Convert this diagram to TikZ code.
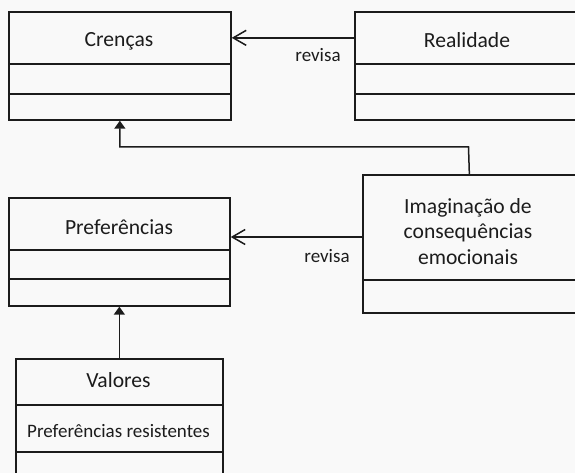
\documentclass[tikz,border=0pt]{standalone}
\usepackage{fontspec}
\setmainfont{Carlito}
\usetikzlibrary{arrows.meta}
\definecolor{bg}{RGB}{249,249,249}
\definecolor{ink}{RGB}{28,28,28}
\begin{document}
\begin{tikzpicture}[x=1pt,y=-1pt,
  cbox/.style n args={2}{draw=ink,line width=1.7pt,inner sep=0pt,
    minimum width=#1,minimum height=#2,anchor=north west},
  big/.style={font=\fontsize{21.6}{25.5}\selectfont,text=ink,inner sep=0pt,anchor=base},
  small/.style={font=\fontsize{19}{23}\selectfont,text=ink,inner sep=0pt,anchor=base},
  barb/.style={draw=ink,line width=1.5pt,-{Straight Barb[length=13pt,width=15pt]}},
  tri/.style={draw=ink,line width=1.5pt,-{Triangle[length=8pt,width=11pt]}}]
\useasboundingbox (0,0) rectangle (575,473);
\fill[bg] (0,0) rectangle (575,473);
% Crencas
\node[cbox={222pt}{52pt}] (crenH) at (8,11) {};
\node[cbox={222pt}{30pt}] (cren2) at (8,63) {};
\node[cbox={222pt}{26pt}] (cren3) at (8,93) {};
\node[big] (crenT) at (119,47) {Crenças};
% Realidade
\node[cbox={224pt}{52pt}] (realH) at (354,11) {};
\node[cbox={224pt}{30pt}] (real2) at (354,63) {};
\node[cbox={224pt}{26pt}] (real3) at (354,93) {};
\node[big] (realT) at (467,48) {Realidade};
% Imaginacao
\node[cbox={213pt}{105pt}] (imagH) at (362,174) {};
\node[cbox={213pt}{33pt}] (imag2) at (362,279) {};
\node[big,align=center] (imagT) at (468,264) {Imaginação de\\consequências\\emocionais};
% Preferencias
\node[cbox={221pt}{52pt}] (prefH) at (8,197) {};
\node[cbox={221pt}{29pt}] (pref2) at (8,249) {};
\node[cbox={221pt}{27pt}] (pref3) at (8,278) {};
\node[big] (prefT) at (119,234) {Preferências};
% Valores
\node[cbox={207pt}{46pt}] (valH) at (15,358) {};
\node[cbox={207pt}{47pt}] (val2) at (15,404) {};
\node[cbox={207pt}{39pt}] (val3) at (15,451) {};
\node[big] (valT) at (118.5,387) {Valores};
\node[small] (valA) at (118.5,437) {Preferências resistentes};
% connectors
\draw[barb] (realH.west) -- (crenH.east);
\node[small] (rev1) at (318,62) {revisa};
\coordinate (r2) at (362,237);
\draw[barb] (r2) -- (r2 -| prefH.east);
\node[small] (rev2) at (327,262) {revisa};
\coordinate (bend) at (468.5,147);
\draw[tri] (imagH.north) -- (bend) -| (cren3.south);
\draw[tri] (valH.north) -- (pref3.south);
\end{tikzpicture}
\end{document}
